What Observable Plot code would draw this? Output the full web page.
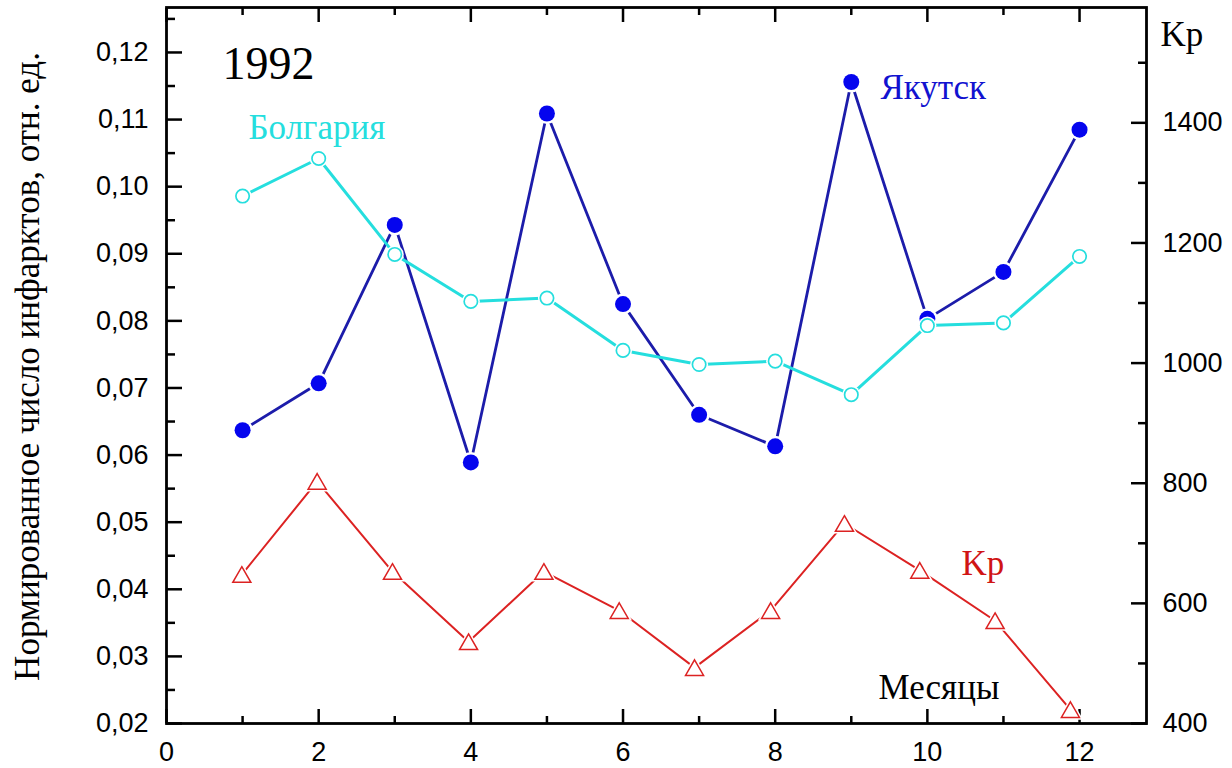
<!DOCTYPE html>
<html><head><meta charset="utf-8">
<script src="https://cdn.jsdelivr.net/npm/d3@7"></script>
<script src="https://cdn.jsdelivr.net/npm/@observablehq/plot@0.6"></script>
<style>html,body{margin:0;padding:0;background:#fff;} #chart svg{display:block;}</style>
</head><body><div id="chart"></div>
<script>
// ---- data ----
const months = [1, 2, 3, 4, 5, 6, 7, 8, 9, 10, 11, 12];
const yakutsk = [0.0637, 0.0707, 0.0943, 0.0589, 0.1109, 0.0825, 0.0660, 0.0613, 0.1156, 0.0803, 0.0873, 0.1085];
const bulgaria = [0.0986, 0.1042, 0.0899, 0.0829, 0.0834, 0.0756, 0.0735, 0.0740, 0.0690, 0.0793, 0.0797, 0.0896];
const kpMonths = [0.99, 1.98, 2.97, 3.97, 4.96, 5.95, 6.94, 7.94, 8.91, 9.90, 10.89, 11.88];
const kp = [648, 803, 653, 536, 653, 588, 493, 588, 733, 655, 571, 423];

const xTicks = [0, 2, 4, 6, 8, 10, 12];
const xMinorTicks = [1, 3, 5, 7, 9, 11];
const yTicks = [0.02, 0.03, 0.04, 0.05, 0.06, 0.07, 0.08, 0.09, 0.10, 0.11, 0.12];
const yMinorTicks = [0.025, 0.035, 0.045, 0.055, 0.065, 0.075, 0.085, 0.095, 0.105, 0.115, 0.125];
const kpTicks = [400, 600, 800, 1000, 1200, 1400];
const kpMinorTicks = [500, 700, 900, 1100, 1300, 1500];

const yLabel = "Нормированное число инфарктов, отн. ед.";
const yearLabel = "1992";
const bulgariaLabel = "Болгария";
const yakutskLabel = "Якутск";
const kpLabel = "Kp";
const xLabel = "Месяцы";

// ---- scales ----
const X_MAX = 12.88, Y_MIN = 0.02, Y_MAX = 0.1267, KP_MIN = 400, KP_MAX = 1592;
const kpToY = d3.scaleLinear([KP_MIN, KP_MAX], [Y_MIN, Y_MAX]);

const yakRows = months.map((m, i) => ({month: m, value: yakutsk[i]}));
const bulRows = months.map((m, i) => ({month: m, value: bulgaria[i]}));
const kpRows = kpMonths.map((m, i) => ({month: m, value: kpToY(kp[i]), kp: kp[i]}));

const BLUE_LINE = "#1c1caa", BLUE_DOT = "#0505ee", CYAN = "#25dede", RED = "#dc2222";
const SERIF = "Liberation Serif", SANS = "Liberation Sans";
const tickStyle = {stroke: "black", strokeWidth: 2.5, label: null, tickFormat: () => ""};
const labelStyle = {tickSize: 0, label: null, fontSize: 27, fontFamily: SANS, fill: "black"};

const chart = Plot.plot({
  width: 1232, height: 768,
  marginLeft: 166, marginRight: 86, marginTop: 7, marginBottom: 45,
  style: {background: "white", fontFamily: SANS, fontSize: "27px", color: "black"},
  x: {domain: [0, X_MAX]},
  y: {domain: [Y_MIN, Y_MAX]},
  marks: [
    // inward tick marks on all four sides (negative size points into the frame)
    Plot.axisY(yTicks, {anchor: "left", tickSize: -16, ...tickStyle}),
    Plot.axisY(yMinorTicks, {anchor: "left", tickSize: -9, ...tickStyle}),
    Plot.axisY(kpTicks.map(kpToY), {anchor: "right", tickSize: -16, ...tickStyle}),
    Plot.axisY(kpMinorTicks.map(kpToY), {anchor: "right", tickSize: -9, ...tickStyle}),
    Plot.axisX(xTicks, {anchor: "bottom", tickSize: -14, ...tickStyle}),
    Plot.axisX(xMinorTicks, {anchor: "bottom", tickSize: -7, ...tickStyle}),
    Plot.axisX(xTicks, {anchor: "top", tickSize: -14, ...tickStyle}),
    Plot.axisX(xMinorTicks, {anchor: "top", tickSize: -7, ...tickStyle}),
    // tick labels
    Plot.axisY(yTicks, {anchor: "left", tickPadding: 18, ...labelStyle, tickFormat: d => d.toFixed(2).replace(".", ",")}),
    Plot.axisY(kpTicks.map(kpToY), {anchor: "right", tickPadding: 16, ...labelStyle, tickFormat: d => String(Math.round(kpToY.invert(d)))}),
    Plot.axisX(xTicks, {anchor: "bottom", tickPadding: 18, ...labelStyle, tickFormat: d => String(d)}),
    // Kp series (right axis)
    Plot.line(kpRows, {x: "month", y: "value", stroke: RED, strokeWidth: 2}),
    Plot.dot(kpRows, {x: "month", y: "value", symbol: "triangle", r: 9.5, fill: "white", stroke: "none", dy: 2.6}),
    Plot.dot(kpRows, {x: "month", y: "value", symbol: "triangle", r: 6.7, fill: "white", stroke: RED, strokeWidth: 1.5, dy: 2.6}),
    // Якутск
    Plot.line(yakRows, {x: "month", y: "value", stroke: BLUE_LINE, strokeWidth: 2.8}),
    Plot.dot(yakRows, {x: "month", y: "value", r: 10.5, fill: "white", stroke: "none"}),
    Plot.dot(yakRows, {x: "month", y: "value", r: 8, fill: BLUE_DOT, stroke: "none"}),
    // Болгария
    Plot.line(bulRows, {x: "month", y: "value", stroke: CYAN, strokeWidth: 3}),
    Plot.dot(bulRows, {x: "month", y: "value", r: 9, fill: "white", stroke: "none"}),
    Plot.dot(bulRows, {x: "month", y: "value", r: 6.7, fill: "white", stroke: CYAN, strokeWidth: 1.7}),
    // frame
    Plot.frame({stroke: "black", strokeWidth: 2.8}),
    // annotations
    Plot.text([yearLabel], {text: d => d, frameAnchor: "top-left", dx: 56, dy: 71, textAnchor: "start", lineAnchor: "bottom", fontFamily: SERIF, fontSize: 46, fill: "black"}),
    Plot.text([bulgariaLabel], {text: d => d, frameAnchor: "top-left", dx: 82, dy: 131, textAnchor: "start", lineAnchor: "bottom", fontFamily: SERIF, fontSize: 35, fill: CYAN}),
    Plot.text([yakutskLabel], {text: d => d, frameAnchor: "top-left", dx: 714, dy: 91, textAnchor: "start", lineAnchor: "bottom", fontFamily: SERIF, fontSize: 35, fill: "#1212d0"}),
    Plot.text([kpLabel], {text: d => d, frameAnchor: "top-left", dx: 795, dy: 567, textAnchor: "start", lineAnchor: "bottom", fontFamily: SERIF, fontSize: 35, fill: "#d01414"}),
    Plot.text([kpLabel], {text: d => d, frameAnchor: "top-left", dx: 994, dy: 38, textAnchor: "start", lineAnchor: "bottom", fontFamily: SERIF, fontSize: 35, fill: "black"}),
    Plot.text([xLabel], {text: d => d, frameAnchor: "top-left", dx: 712, dy: 691, textAnchor: "start", lineAnchor: "bottom", fontFamily: SERIF, fontSize: 35, fill: "black"}),
    Plot.text([yLabel], {text: d => d, frameAnchor: "left", dx: -127.5, dy: 1, rotate: -90, textAnchor: "middle", lineAnchor: "bottom", fontFamily: SERIF, fontSize: 35, fill: "black"})
  ]
});
document.getElementById("chart").appendChild(chart);
</script>
</body></html>
